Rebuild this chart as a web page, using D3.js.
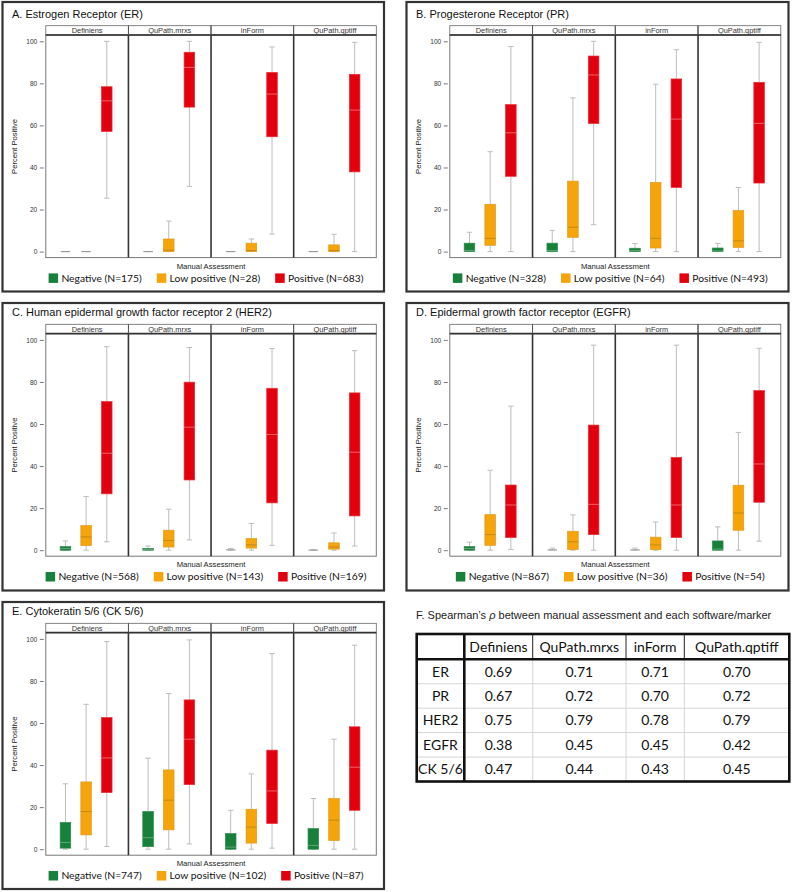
<!DOCTYPE html>
<html><head><meta charset="utf-8">
<script src="https://cdn.jsdelivr.net/npm/d3@7"></script>
<style>
html,body{margin:0;padding:0;background:#fff;}
svg{display:block;}
</style></head>
<body>
<svg id="fig" width="793" height="892"></svg>
<script>
// ---------------- DATA ----------------
const softwares = ["Definiens", "QuPath.mrxs", "inForm", "QuPath.qptiff"];
const groups = ["Negative", "Low positive", "Positive"];
const yTicks = [0, 20, 40, 60, 80, 100];

// box stats per software -> per group: [whiskerLow, Q1, median, Q3, whiskerHigh]
const erStats = [
  [[0,0,0,0,0],[0,0,0,0,0],[25.4,57.1,71.7,78.4,100]],
  [[0,0,0,0,0],[0,0,0.7,6.0,14.5],[31,68.7,87.6,94.8,100]],
  [[0,0,0,0,0],[0,0,0.5,4.0,6.0],[8.3,54.6,74.9,85.2,97.3]],
  [[0,0,0,0,0],[0,0,0.5,3.2,8.2],[0,37.9,67.3,84.3,99.5]]
];
const prStats = [
  [[0,0,0.5,4.0,9.2],[0,3.0,6.3,22.5,47.5],[0,35.8,56.5,69.9,97.5]],
  [[0,0,0.5,4.0,10.1],[0,6.8,11.6,33.5,73.1],[12.8,60.9,84,93,100]],
  [[0,0,0.5,1.6,3.8],[0,1.7,6.3,32.9,79.6],[0,30.5,63,82.1,96]],
  [[0,0,0.3,1.7,3.9],[0,2,5.1,19.5,30.5],[0,32.6,61,80.5,99.5]]
];
const her2Stats = [
  [[0,0,0.8,1.7,4.4],[0,2.2,6.3,11.7,25.5],[4,26.8,46.1,70.7,96.8]],
  [[0,0,0.3,0.8,2],[0,1.5,4.6,9.5,19.5],[4.9,33.4,58.5,79.9,96.4]],
  [[0,0,0.1,0.3,0.8],[0,1,2.5,5.5,12.7],[2.3,22.5,55,77,95.9]],
  [[0,0,0,0.1,0.2],[0,0.5,1.5,3.5,8.2],[2,16.3,46.6,74.8,94.9]]
];
const egfrStats = [
  [[0,0,0.8,1.7,3.8],[0,2.3,7.4,16.9,38],[0.3,6,21.5,31,68.5]],
  [[0,0,0.1,0.3,1],[0,0.3,4,9,16.8],[0,7.4,21.8,59.5,97.5]],
  [[0,0,0.1,0.3,1],[0,0.3,2.5,6.2,13.4],[0,6,21.5,44.1,97.5]],
  [[0,0,0.5,4.4,11.1],[0,9.5,17.7,30.9,56],[4.3,22.8,41,75.9,96]]
];
const ckStats = [
  [[0,0.5,3.2,12.7,31.1],[0,6.8,17.9,32,68.9],[1.3,26.9,43.4,62.6,98.7]],
  [[0,1.2,5.5,17.9,43.3],[0,9.2,23.3,37.7,74],[2.5,30.7,52.3,71,99.5]],
  [[0,0,1,7.4,18.5],[0,2.9,10.5,19,35.8],[0.5,12.2,27.7,47.1,93]],
  [[0,0,1.8,9.8,24.1],[0,4.1,13.8,24.1,52.3],[0,18.5,39,58.2,97]]
];
const erN = [175, 28, 683];
const prN = [328, 64, 493];
const her2N = [568, 143, 169];
const egfrN = [867, 36, 54];
const ckN = [747, 102, 87];

const titles = ["A. Estrogen Receptor (ER)", "B. Progesterone Receptor (PR)",
  "C. Human epidermal growth factor receptor 2 (HER2)", "D. Epidermal growth factor receptor (EGFR)",
  "E. Cytokeratin 5/6 (CK 5/6)"];

const tableTitleA = "F. Spearman\u2019s ";
const tableTitleRho = "\u03c1";
const tableTitleB = " between manual assessment and each software/marker";
const tableMarkers = ["ER", "PR", "HER2", "EGFR", "CK 5/6"];
const rhoER = ["0.69", "0.71", "0.71", "0.70"];
const rhoPR = ["0.67", "0.72", "0.70", "0.72"];
const rhoHER2 = ["0.75", "0.79", "0.78", "0.79"];
const rhoEGFR = ["0.38", "0.45", "0.45", "0.42"];
const rhoCK = ["0.47", "0.44", "0.43", "0.45"];

// ---------------- STYLE / LAYOUT ----------------
const fills = ["#17803a", "#f5a50a", "#e2000f"];
const strokes = ["#2e8a4a", "#e09a20", "#e8303a"];
const medians = ["#6fb083", "#b7820f", "#f57a80"];
const SANS = "'Liberation Sans', Arial, sans-serif";
const CAL = "Lato, 'Open Sans', sans-serif";

const panels = [
  {title: titles[0], stats: erStats, ns: erN, x0: 2.5, x1: 384, y0: 2, y1: 291.5, hTop: 25.7},
  {title: titles[1], stats: prStats, ns: prN, x0: 406.5, x1: 788.5, y0: 2, y1: 291.5, hTop: 25.7},
  {title: titles[2], stats: her2Stats, ns: her2N, x0: 2.5, x1: 384, y0: 303, y1: 590.5, hTop: 324.3},
  {title: titles[3], stats: egfrStats, ns: egfrN, x0: 406.5, x1: 788.5, y0: 303, y1: 590.5, hTop: 324.3},
  {title: titles[4], stats: ckStats, ns: ckN, x0: 2.5, x1: 384, y0: 602, y1: 889, hTop: 623.3}
];

const svg = d3.select("#fig");
svg.append("rect").attr("width", 793).attr("height", 892).attr("fill", "#fff");

panels.forEach(p => {
  const g = svg.append("g");
  // frame
  g.append("rect").attr("x", p.x0).attr("y", p.y0).attr("width", p.x1 - p.x0).attr("height", p.y1 - p.y0)
    .attr("fill", "none").attr("stroke", "#333").attr("stroke-width", 2.2);
  // title
  g.append("text").attr("x", p.x0 + 9.5).attr("y", p.hTop - 12).attr("dy", "0.35em")
    .attr("font-family", SANS).attr("font-size", 11).attr("fill", "#111").text(p.title);

  const pl = p.x0 + 43.3, pr = p.x1 - 7.7;
  const hTop = p.hTop, hBot = p.hTop + 9.3;
  const yTop = p.hTop + 15.6, yZero = yTop + 210.3;
  const pBot = yZero + 6;
  const y = d3.scaleLinear().domain([0, 100]).range([yZero, yTop]);
  const fx = d3.scaleBand().domain(softwares).range([pl, pr]).paddingInner(0).paddingOuter(0);
  const fw = fx.bandwidth();
  const boxW = fw * 0.128;

  // header strips
  softwares.forEach(s => {
    g.append("rect").attr("x", fx(s)).attr("y", hTop).attr("width", fw).attr("height", hBot - hTop)
      .attr("fill", "#fff").attr("stroke", "#666").attr("stroke-width", 0.8);
    g.append("text").attr("x", fx(s) + fw / 2).attr("y", (hTop + hBot) / 2 + 0.3).attr("dy", "0.35em")
      .attr("text-anchor", "middle").attr("font-family", SANS).attr("font-size", 7.4).attr("fill", "#333").text(s);
  });
  // plot area
  g.append("rect").attr("x", pl).attr("y", hBot).attr("width", pr - pl).attr("height", pBot - hBot)
    .attr("fill", "none").attr("stroke", "#777").attr("stroke-width", 1);
  g.append("line").attr("x1", pl).attr("x2", pr).attr("y1", hBot).attr("y2", hBot)
    .attr("stroke", "#333").attr("stroke-width", 1.6);
  softwares.slice(1).forEach(s => {
    g.append("line").attr("x1", fx(s)).attr("x2", fx(s)).attr("y1", hBot).attr("y2", pBot)
      .attr("stroke", "#333").attr("stroke-width", 1.6);
    g.append("line").attr("x1", fx(s)).attr("x2", fx(s)).attr("y1", hTop).attr("y2", hBot)
      .attr("stroke", "#555").attr("stroke-width", 1);
  });

  // y axis
  const ax = g.append("g").attr("transform", `translate(${pl - 2},0)`)
    .call(d3.axisLeft(y).tickValues(yTicks).tickSize(4).tickPadding(2.5));
  ax.select(".domain").remove();
  ax.selectAll(".tick line").attr("stroke", "#555").attr("stroke-width", 0.8);
  ax.selectAll(".tick text").attr("font-family", SANS).attr("font-size", 6.6).attr("fill", "#333");

  g.append("text").attr("transform", `translate(${p.x0 + 12},${(yTop + yZero) / 2}) rotate(-90)`)
    .attr("text-anchor", "middle").attr("dy", "0.35em").attr("font-family", SANS).attr("font-size", 7.6)
    .attr("fill", "#222").text("Percent Positive");
  g.append("text").attr("x", (pl + pr) / 2).attr("y", pBot + 8.3).attr("dy", "0.35em")
    .attr("text-anchor", "middle").attr("font-family", SANS).attr("font-size", 7.7).attr("fill", "#222")
    .text("Manual Assessment");

  // boxes
  softwares.forEach((s, si) => {
    const gx = d3.scalePoint().domain(groups).range([fx(s), fx(s) + fw]).padding(1);
    groups.forEach((grp, gi) => {
      const [lo, q1, md, q3, hi] = p.stats[si][gi];
      const cx = gx(grp) - 1;
      const wc = "#bdbdbd";
      if (hi > q3) {
        g.append("line").attr("x1", cx).attr("x2", cx).attr("y1", y(q3)).attr("y2", y(hi)).attr("stroke", wc).attr("stroke-width", 1);
        g.append("line").attr("x1", cx - 2.7).attr("x2", cx + 2.7).attr("y1", y(hi)).attr("y2", y(hi)).attr("stroke", wc).attr("stroke-width", 1);
      }
      if (q1 > lo) {
        g.append("line").attr("x1", cx).attr("x2", cx).attr("y1", y(lo)).attr("y2", y(q1)).attr("stroke", wc).attr("stroke-width", 1);
      }
      g.append("line").attr("x1", cx - 2.7).attr("x2", cx + 2.7).attr("y1", y(lo)).attr("y2", y(lo)).attr("stroke", wc).attr("stroke-width", 1);
      if (q3 - q1 < 0.35) {
        g.append("line").attr("x1", cx - boxW / 2 + 0.5).attr("x2", cx + boxW / 2 - 0.5)
          .attr("y1", y((q1 + q3) / 2)).attr("y2", y((q1 + q3) / 2)).attr("stroke", "#999").attr("stroke-width", 1.1);
      } else {
        g.append("rect").attr("x", cx - boxW / 2).attr("y", y(q3)).attr("width", boxW).attr("height", y(q1) - y(q3))
          .attr("fill", fills[gi]).attr("stroke", strokes[gi]).attr("stroke-width", 0.7);
        g.append("line").attr("x1", cx - boxW / 2).attr("x2", cx + boxW / 2).attr("y1", y(md)).attr("y2", y(md))
          .attr("stroke", medians[gi]).attr("stroke-width", 0.8);
      }
    });
  });

  // legend
  const lg = g.append("g");
  const items = [];
  groups.forEach((grp, gi) => {
    const it = lg.append("g");
    it.append("rect").attr("x", 0).attr("y", -4.7).attr("width", 9.5).attr("height", 9.5).attr("fill", fills[gi]);
    const t = it.append("text").attr("x", 12.8).attr("dy", "0.36em").attr("font-family", CAL).attr("font-size", 10.3)
      .attr("fill", "#111").text(`${grp} (N=${p.ns[gi]})`);
    const w = 12.8 + t.node().getComputedTextLength();
    items.push({it, w});
  });
  const gap = 15;
  const total = d3.sum(items, d => d.w) + gap * (items.length - 1);
  let xx = (pl + pr) / 2 - 5 - total / 2;
  items.forEach(d => { d.it.attr("transform", `translate(${xx},${pBot + 20.5})`); xx += d.w + gap; });
});

// ---------------- TABLE ----------------
const tg = svg.append("g");
const tt = tg.append("text").attr("x", 416).attr("y", 615).attr("dy", "0.35em").attr("font-family", SANS)
  .attr("font-size", 11).attr("fill", "#222");
tt.append("tspan").text(tableTitleA);
tt.append("tspan").attr("font-style", "italic").text(tableTitleRho);
tt.append("tspan").text(tableTitleB);

const colEdges = [416.7, 464.3, 532.7, 626, 684.3, 789.3];
const rowVals = [rhoER, rhoPR, rhoHER2, rhoEGFR, rhoCK];
const tTop = 634, hdrBot = 659.3, tBot = 781.5;
const ry = d3.scaleBand().domain(tableMarkers).range([hdrBot, tBot]);
const cols = [""].concat(softwares);
const cx0 = d3.scaleOrdinal().domain(cols).range(colEdges.slice(0, 5));
const cx1 = d3.scaleOrdinal().domain(cols).range(colEdges.slice(1));

tableMarkers.slice(1).forEach(m => {
  tg.append("line").attr("x1", colEdges[0]).attr("x2", colEdges[5]).attr("y1", ry(m)).attr("y2", ry(m))
    .attr("stroke", "#d4d4d4").attr("stroke-width", 1);
});
colEdges.slice(2, 5).forEach(x => {
  tg.append("line").attr("x1", x).attr("x2", x).attr("y1", hdrBot).attr("y2", tBot).attr("stroke", "#d4d4d4").attr("stroke-width", 1);
  tg.append("line").attr("x1", x).attr("x2", x).attr("y1", tTop).attr("y2", hdrBot).attr("stroke", "#222").attr("stroke-width", 1);
});
tg.append("line").attr("x1", colEdges[0]).attr("x2", colEdges[5]).attr("y1", hdrBot).attr("y2", hdrBot).attr("stroke", "#111").attr("stroke-width", 2.6);
tg.append("line").attr("x1", colEdges[1]).attr("x2", colEdges[1]).attr("y1", tTop).attr("y2", tBot).attr("stroke", "#111").attr("stroke-width", 2.6);
tg.append("rect").attr("x", colEdges[0]).attr("y", tTop).attr("width", colEdges[5] - colEdges[0]).attr("height", tBot - tTop)
  .attr("fill", "none").attr("stroke", "#111").attr("stroke-width", 2.6);

softwares.forEach(s => {
  tg.append("text").attr("x", (cx0(s) + cx1(s)) / 2).attr("y", (tTop + hdrBot) / 2).attr("dy", "0.36em")
    .attr("text-anchor", "middle").attr("font-family", CAL).attr("font-size", 14).attr("fill", "#111").text(s);
});
tableMarkers.forEach((m, mi) => {
  const yc = ry(m) + ry.bandwidth() / 2;
  tg.append("text").attr("x", (colEdges[0] + colEdges[1]) / 2).attr("y", yc).attr("dy", "0.36em")
    .attr("text-anchor", "middle").attr("font-family", CAL).attr("font-size", 14).attr("fill", "#111").text(m);
  softwares.forEach((s, si) => {
    tg.append("text").attr("x", (cx0(s) + cx1(s)) / 2).attr("y", yc).attr("dy", "0.36em")
      .attr("text-anchor", "middle").attr("font-family", CAL).attr("font-size", 14).attr("fill", "#111").text(rowVals[mi][si]);
  });
});
</script>
</body></html>
